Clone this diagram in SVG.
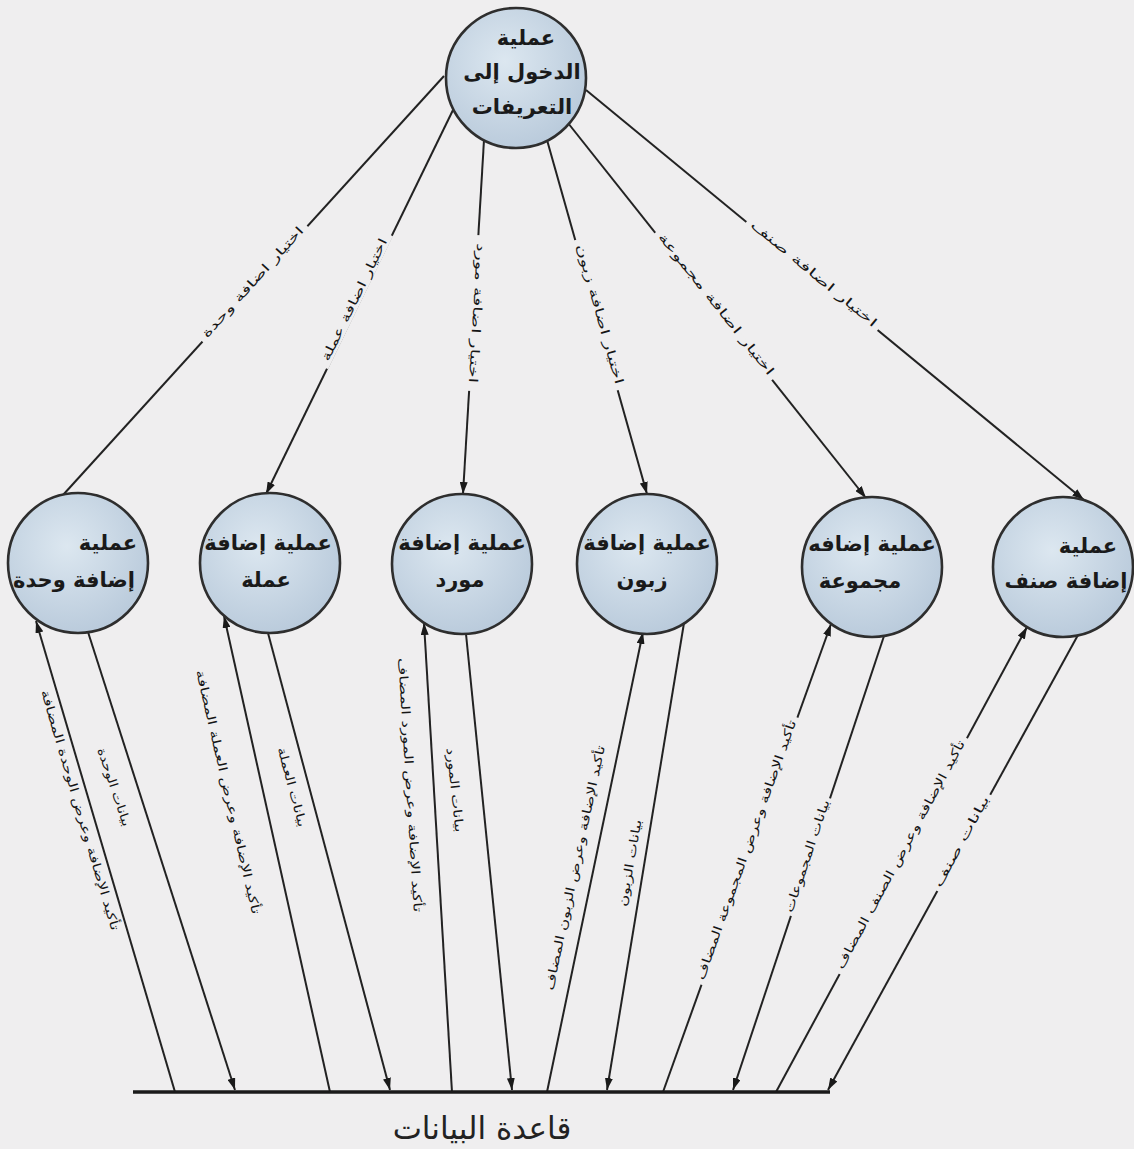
<svg xmlns="http://www.w3.org/2000/svg" width="1134" height="1149" viewBox="0 0 1134 1149">
<defs>
<radialGradient id="cf" cx="0.42" cy="0.38" r="0.65"><stop offset="0" stop-color="#dce7f0"/><stop offset="1" stop-color="#b9cadb"/></radialGradient>
<marker id="ah" viewBox="0 0 12 8" refX="12" refY="4" markerWidth="12" markerHeight="8" markerUnits="userSpaceOnUse" orient="auto"><path d="M0,0 L12,4 L0,8 z" fill="#1a1a1a"/></marker>
<style>
.node circle{fill:url(#cf);stroke:#2e2e2e;stroke-width:2.6}
.nt{font-family:"DejaVu Sans",sans-serif;font-weight:bold;font-size:21px;fill:#1a1a1a;text-anchor:middle}
.c{stroke:#222;stroke-width:2;fill:none}
.a{marker-end:url(#ah)}
.lb{font-family:"DejaVu Sans",sans-serif;font-size:12px;fill:#151515;text-anchor:middle}
.gap{fill:#efeeef}
</style>
</defs>
<rect width="1134" height="1149" fill="#efeeef"/>

<g id="connectors">
  <!-- top circle to process circles -->
  <line class="c" x1="444" y1="76" x2="63" y2="495"/>
  <line class="c a" x1="453" y1="110" x2="266" y2="494"/>
  <line class="c a" x1="484" y1="140" x2="463" y2="494"/>
  <line class="c a" x1="547" y1="140" x2="647" y2="494"/>
  <line class="c a" x1="568" y1="123" x2="866" y2="498"/>
  <line class="c a" x1="586" y1="90" x2="1084" y2="500"/>
  <!-- process circles to/from database -->
  <line class="c a" x1="175" y1="1092" x2="36" y2="621"/>
  <line class="c a" x1="88" y1="632" x2="235" y2="1090"/>
  <line class="c a" x1="330" y1="1092" x2="224" y2="616"/>
  <line class="c a" x1="268" y1="633" x2="390" y2="1090"/>
  <line class="c a" x1="452" y1="1092" x2="424" y2="623"/>
  <line class="c a" x1="466" y1="634" x2="512" y2="1090"/>
  <line class="c a" x1="547" y1="1092" x2="643" y2="632"/>
  <line class="c a" x1="684" y1="623" x2="607" y2="1090"/>
  <line class="c a" x1="663" y1="1092" x2="831" y2="624"/>
  <line class="c a" x1="884" y1="636" x2="733" y2="1090"/>
  <line class="c a" x1="776" y1="1092" x2="1027" y2="627"/>
  <line class="c a" x1="1078" y1="635" x2="828" y2="1090"/>

  <!-- labels with line gaps -->
  <g transform="translate(255,284) rotate(-47.8)"><rect class="gap" x="-78" y="-4" width="156" height="8"/><text class="lb" y="1" textLength="145" lengthAdjust="spacingAndGlyphs">اختيار اضافة وحدة</text></g>
  <g transform="translate(357,301) rotate(-64)"><rect class="gap" x="-74" y="-4" width="148" height="8"/><text class="lb" y="1" textLength="135" lengthAdjust="spacingAndGlyphs">اختيار اضافة عملة</text></g>
  <g transform="translate(474,313) rotate(93.4)"><rect class="gap" x="-78" y="-4" width="156" height="8"/><text class="lb" y="1" textLength="140" lengthAdjust="spacingAndGlyphs">اختيار اضافة مورد</text></g>
  <g transform="translate(597,315) rotate(74.3)"><rect class="gap" x="-78" y="-4" width="156" height="8"/><text class="lb" y="1" textLength="145" lengthAdjust="spacingAndGlyphs">اختيار اضافة زبون</text></g>
  <g transform="translate(714,306) rotate(51.5)"><rect class="gap" x="-94" y="-4" width="188" height="8"/><text class="lb" y="1" textLength="178" lengthAdjust="spacingAndGlyphs">اختيار اضافة مجموعة</text></g>
  <g transform="translate(812,276) rotate(39.5)"><rect class="gap" x="-85" y="-4" width="170" height="8"/><text class="lb" y="1" textLength="160" lengthAdjust="spacingAndGlyphs">اختيار اضافة صنف</text></g>

  <g transform="translate(749,851) rotate(-70.3)"><rect class="gap" x="-142" y="-4" width="284" height="8"/><text class="lb" y="1" textLength="275" lengthAdjust="spacingAndGlyphs">تأكيد الإضافة وعرض المجموعة المضاف</text></g>
  <g transform="translate(810,857) rotate(-71.6)"><rect class="gap" x="-62" y="-4" width="124" height="8"/><text class="lb" y="1" textLength="118" lengthAdjust="spacingAndGlyphs">بيانات المجموعات</text></g>
  <g transform="translate(903,856) rotate(-61.6)"><rect class="gap" x="-134" y="-4" width="268" height="8"/><text class="lb" y="1" textLength="258" lengthAdjust="spacingAndGlyphs">تأكيد الإضافة وعرض الصنف المضاف</text></g>
  <g transform="translate(964,843) rotate(-61.2)"><rect class="gap" x="-55" y="-4" width="110" height="8"/><text class="lb" y="1" textLength="102" lengthAdjust="spacingAndGlyphs">بيانات صنف</text></g>

  <!-- labels beside lines -->
  <text class="lb" transform="translate(80,810) rotate(73.6)" y="4" textLength="250" lengthAdjust="spacingAndGlyphs">تأكيد الإضافة وعرض الوحدة المضافة</text>
  <text class="lb" transform="translate(114,787) rotate(71.5)" y="4" textLength="82" lengthAdjust="spacingAndGlyphs">بيانات الوحدة</text>
  <text class="lb" transform="translate(228,792) rotate(77)" y="4" textLength="250" lengthAdjust="spacingAndGlyphs">تأكيد الإضافة وعرض العملة المضافة</text>
  <text class="lb" transform="translate(292,787) rotate(75)" y="4" textLength="82" lengthAdjust="spacingAndGlyphs">بيانات العملة</text>
  <text class="lb" transform="translate(410,785) rotate(86.5)" y="4" textLength="255" lengthAdjust="spacingAndGlyphs">تأكيد الإضافة وعرض المورد المضاف</text>
  <text class="lb" transform="translate(455,790) rotate(84)" y="4" textLength="85" lengthAdjust="spacingAndGlyphs">بيانات المورد</text>
  <text class="lb" transform="translate(575,868) rotate(-78)" y="4" textLength="250" lengthAdjust="spacingAndGlyphs">تأكيد الإضافة وعرض الزبون المضاف</text>
  <text class="lb" transform="translate(630,863) rotate(-80)" y="4" textLength="88" lengthAdjust="spacingAndGlyphs">بيانات الزبون</text>
</g>

<g id="n-top" class="node">
  <circle cx="516" cy="78" r="70"/>
  <text class="nt" x="526" y="45">عملية</text>
  <text class="nt" x="522" y="79">الدخول إلى</text>
  <text class="nt" x="522" y="114">التعريفات</text>
</g>
<g id="n-unit" class="node">
  <circle cx="78" cy="563" r="70"/>
  <text class="nt" x="108" y="550">عملية</text>
  <text class="nt" x="74" y="587">إضافة وحدة</text>
</g>
<g id="n-currency" class="node">
  <circle cx="270" cy="563" r="70"/>
  <text class="nt" x="268" y="550">عملية إضافة</text>
  <text class="nt" x="266" y="587">عملة</text>
</g>
<g id="n-supplier" class="node">
  <circle cx="462" cy="564" r="70"/>
  <text class="nt" x="462" y="550">عملية إضافة</text>
  <text class="nt" x="460" y="587">مورد</text>
</g>
<g id="n-customer" class="node">
  <circle cx="647" cy="564" r="70"/>
  <text class="nt" x="647" y="550">عملية إضافة</text>
  <text class="nt" x="642" y="587">زبون</text>
</g>
<g id="n-group" class="node">
  <circle cx="872" cy="567" r="70"/>
  <text class="nt" x="872" y="551">عملية إضافه</text>
  <text class="nt" x="860" y="588">مجموعة</text>
</g>
<g id="n-category" class="node">
  <circle cx="1063" cy="567" r="70"/>
  <text class="nt" x="1088" y="553">عملية</text>
  <text class="nt" x="1066" y="588">إضافة صنف</text>
</g>
<g id="n-db">
  <line x1="133" y1="1092" x2="830" y2="1092" stroke="#1a1a1a" stroke-width="3.5"/>
  <text x="482" y="1139" font-family="DejaVu Sans, sans-serif" font-size="31" fill="#222" text-anchor="middle">قاعدة البيانات</text>
</g>
</svg>
